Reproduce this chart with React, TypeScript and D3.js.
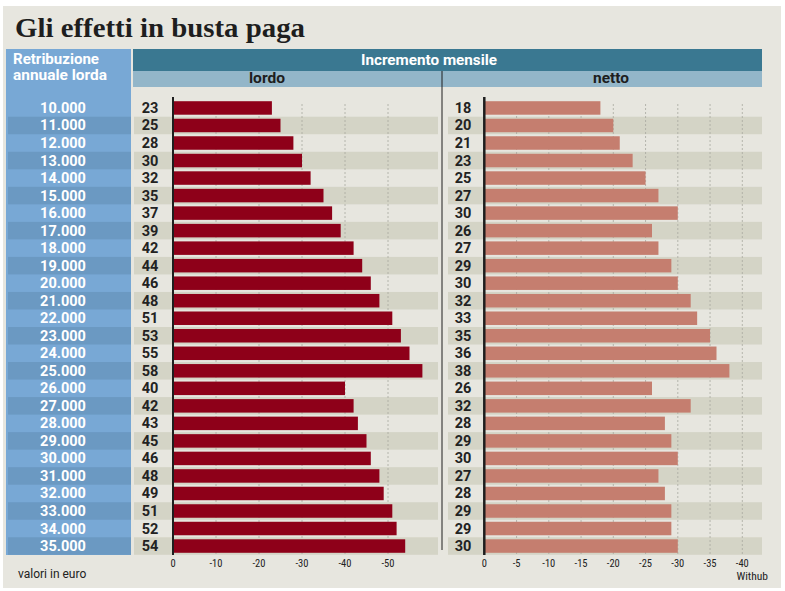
import React from "react";
import * as d3 from "d3";

const salaries = ["10.000","11.000","12.000","13.000","14.000","15.000","16.000","17.000","18.000","19.000","20.000","21.000","22.000","23.000","24.000","25.000","26.000","27.000","28.000","29.000","30.000","31.000","32.000","33.000","34.000","35.000"];
const lordo = [23,25,28,30,32,35,37,39,42,44,46,48,51,53,55,58,40,42,43,45,46,48,49,51,52,54];
const netto = [18,20,21,23,25,27,30,26,27,29,30,32,33,35,36,38,26,32,28,29,30,27,28,29,29,30];
const lordoTicks = [0,10,20,30,40,50];
const nettoTicks = [0,5,10,15,20,25,30,35,40];

const W = 785, H = 591;
const SANS = "Roboto, 'Open Sans', sans-serif";
const NARROW = "'Liberation Sans Narrow', 'Roboto Condensed', 'DejaVu Sans Condensed', sans-serif";

export default function App() {
  const y = d3.scaleBand<string>().domain(salaries).range([99.2, 554.8]).padding(0);
  const bw = y.bandwidth();
  const barH = bw * 0.77;
  const xL = d3.scaleLinear().domain([0, 60]).range([173, 431]);
  const xN = d3.scaleLinear().domain([0, 40]).range([484.3, 742.3]);

  return (
    <div style={{ position: "absolute", left: 0, top: 0 }}>
      <svg width={W} height={H} style={{ display: "block" }}>
        <rect x={0} y={0} width={W} height={H} fill="#ffffff" />
        <rect x={3} y={6} width={778} height={582} fill="#e7e6df" />
        <text x={15} y={37} fontFamily="'Liberation Serif', 'DejaVu Serif', serif" fontWeight="bold" fontSize={28} fill="#1e1e1e" textLength={290} lengthAdjust="spacingAndGlyphs">Gli effetti in busta paga</text>

        {/* left column */}
        <rect x={6} y={49} width={125} height={506} fill="#78a8d5" />
        <text x={13} y={64} fontFamily={SANS} fontWeight="bold" fontSize={14.5} fill="#fff" textLength={86} lengthAdjust="spacingAndGlyphs">Retribuzione</text>
        <text x={13} y={79.5} fontFamily={SANS} fontWeight="bold" fontSize={14.5} fill="#fff" textLength={94} lengthAdjust="spacingAndGlyphs">annuale lorda</text>

        {/* headers */}
        <rect x={133} y={49} width={629} height={22} fill="#3a7891" />
        <text x={429} y={64.5} textAnchor="middle" fontFamily={SANS} fontWeight="bold" fontSize={14.5} fill="#fff" textLength={136} lengthAdjust="spacingAndGlyphs">Incremento mensile</text>
        <rect x={133} y={71} width={629} height={16} fill="#93b6c9" />
        <text x={267} y={83} textAnchor="middle" fontFamily={SANS} fontWeight="bold" fontSize={14.5} fill="#1e1e1e" textLength={36} lengthAdjust="spacingAndGlyphs">lordo</text>
        <text x={611} y={83} textAnchor="middle" fontFamily={SANS} fontWeight="bold" fontSize={14.5} fill="#1e1e1e" textLength={36} lengthAdjust="spacingAndGlyphs">netto</text>

        {/* stripes */}
        {salaries.map((s, i) => i % 2 === 1 ? (
          <g key={"st" + s}>
            <rect x={8} y={y(s)!} width={123} height={bw} fill="#6b99c2" />
            <rect x={134} y={y(s)!} width={304} height={bw} fill="#d4d4c6" />
            <rect x={448} y={y(s)!} width={314} height={bw} fill="#d4d4c6" />
          </g>
        ) : null)}

        {/* gridlines */}
        {lordoTicks.filter(t => t > 0).map(t => (
          <line key={"gl" + t} x1={xL(t)} x2={xL(t)} y1={104} y2={555} stroke="#a8a8a0" strokeWidth={0.8} strokeDasharray="2,2" />
        ))}
        {nettoTicks.filter(t => t > 0).map(t => (
          <line key={"gn" + t} x1={xN(t)} x2={xN(t)} y1={104} y2={555} stroke="#a8a8a0" strokeWidth={0.8} strokeDasharray="2,2" />
        ))}

        {/* divider */}
        <line x1={442} x2={442} y1={71} y2={550} stroke="#1e1e1e" strokeWidth={1} />

        {/* bars */}
        {salaries.map((s, i) => {
          const cy = y(s)! + bw / 2;
          return (
            <g key={"b" + s}>
              <rect x={xL(0)} y={cy - barH / 2} width={xL(lordo[i]) - xL(0)} height={barH} fill="#8e0019" />
              <rect x={xN(0)} y={cy - barH / 2} width={xN(netto[i]) - xN(0)} height={barH} fill="#c57e6f" />
              <text x={63} y={cy + 5} textAnchor="middle" fontFamily={SANS} fontWeight="bold" fontSize={14.5} fill="#fff">{s}</text>
              <text x={150} y={cy + 5} textAnchor="middle" fontFamily={SANS} fontWeight="bold" fontSize={14.5} fill="#222">{lordo[i]}</text>
              <text x={463} y={cy + 5} textAnchor="middle" fontFamily={SANS} fontWeight="bold" fontSize={14.5} fill="#222">{netto[i]}</text>
            </g>
          );
        })}

        {/* zero axes */}
        <line x1={xL(0)} x2={xL(0)} y1={97} y2={555} stroke="#1e1e1e" strokeWidth={2} />
        <line x1={xN(0)} x2={xN(0)} y1={97} y2={555} stroke="#1e1e1e" strokeWidth={2.5} />

        {/* tick labels */}
        {lordoTicks.map(t => (
          <text key={"tl" + t} x={xL(t)} y={567} textAnchor="middle" fontFamily={NARROW} fontSize={10.5} fill="#222">{t === 0 ? "0" : "-" + t}</text>
        ))}
        {nettoTicks.map(t => (
          <text key={"tn" + t} x={xN(t)} y={567} textAnchor="middle" fontFamily={NARROW} fontSize={10.5} fill="#222">{t === 0 ? "0" : "-" + t}</text>
        ))}

        <text x={18} y={578} fontFamily={SANS} fontSize={12} fill="#222">valori in euro</text>
        <text x={768} y={580} textAnchor="end" fontFamily={NARROW} fontSize={11.5} fill="#222">Withub</text>
      </svg>
    </div>
  );
}
